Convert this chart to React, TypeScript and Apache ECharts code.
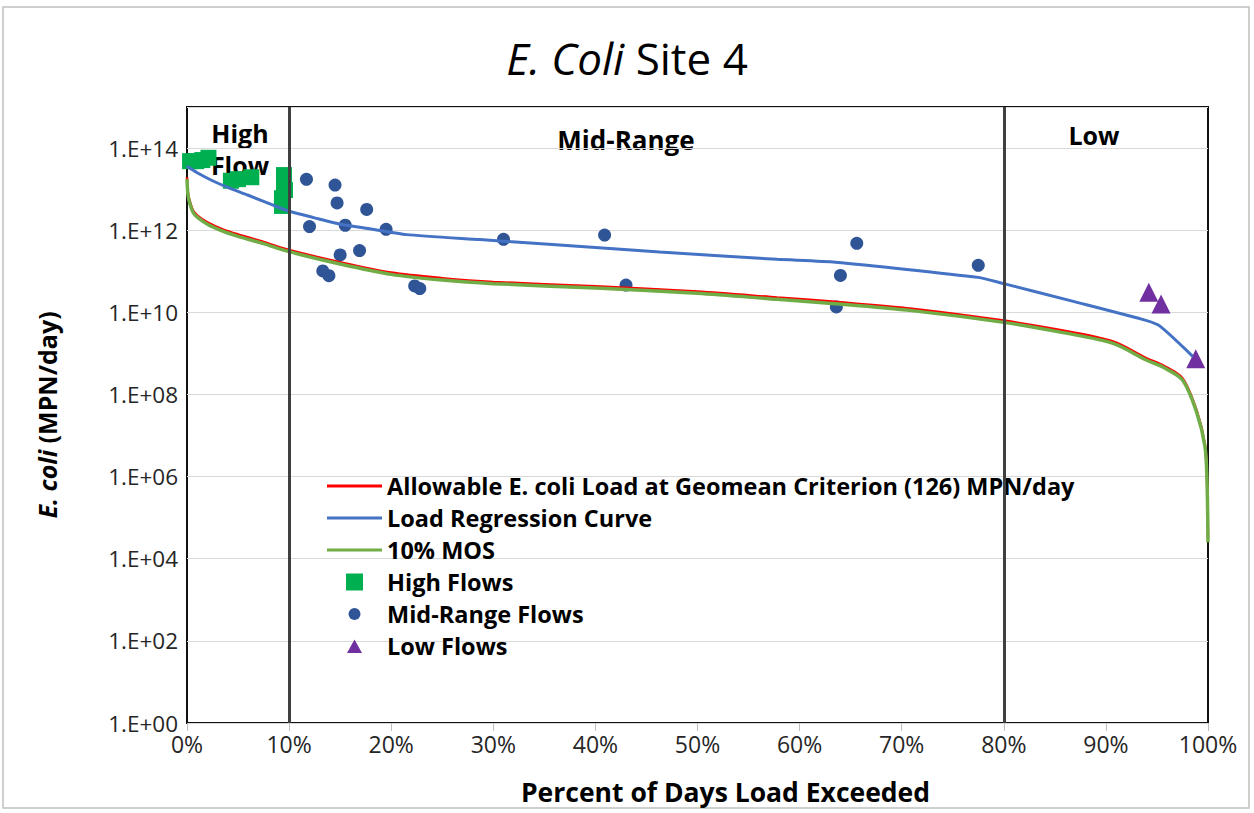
import React, { useEffect, useRef } from 'react';
import * as echarts from 'echarts';

// Percent of days load exceeded (x) and E. coli load, MPN/day (y)
const allowableX = [0, 0.1, 0.3, 0.6, 1, 2, 3.5, 5, 7.5, 10, 15, 20, 25, 30, 40, 50, 57.8, 63.5, 71, 80, 85.8, 90.7, 94, 95.6, 97.5, 98.9, 99.7, 99.9, 100];
const allowableY = [1.95e13, 7.9e12, 4.8e12, 3.0e12, 2.3e12, 1.55e12, 1.05e12, 7.9e11, 5.2e11, 3.3e11, 1.66e11, 9.3e10, 6.8e10, 5.5e10, 4.3e10, 3.2e10, 2.3e10, 1.8e10, 1.23e10, 6.3e9, 3.6e9, 1.95e9, 7.6e8, 5.1e8, 2.5e8, 4.0e7, 6.0e6, 9.3e5, 3.2e4];

const mosX = [0, 0.1, 0.3, 0.6, 1, 2, 3.5, 5, 7.5, 10, 15, 20, 25, 30, 40, 50, 57.8, 63.5, 71, 80, 85.8, 90.7, 94, 95.6, 97.5, 98.9, 99.7, 99.9, 100];
const mosY = [1.75e13, 7.1e12, 4.3e12, 2.7e12, 2.07e12, 1.4e12, 9.5e11, 7.1e11, 4.7e11, 3.0e11, 1.5e11, 8.4e10, 6.1e10, 5.0e10, 3.9e10, 2.9e10, 2.07e10, 1.62e10, 1.1e10, 5.7e9, 3.2e9, 1.75e9, 6.8e8, 4.6e8, 2.25e8, 3.6e7, 5.4e6, 8.4e5, 2.5e4];

const regressionX = [0, 1, 2.5, 4, 6, 8.5, 10, 12.5, 15, 18, 21.5, 28.7, 40, 46.3, 57.8, 63.5, 77.5, 80, 87, 94, 95.3, 98.5];
const regressionY = [3.6e13, 2.5e13, 1.6e13, 1.1e13, 7.1e12, 4.0e12, 2.9e12, 2.0e12, 1.4e12, 1.07e12, 7.8e11, 5.9e11, 3.8e11, 2.95e11, 1.95e11, 1.66e11, 7.1e10, 5.0e10, 1.8e10, 6.3e9, 4.6e9, 8.5e8];

const highX = [0.3, 0.9, 1.5, 2.1, 4.3, 5.0, 6.3, 9.5, 9.5, 9.6, 9.3, 9.3];
const highY = [4.8e13, 4.8e13, 5.1e13, 5.8e13, 1.6e13, 1.75e13, 1.95e13, 2.2e13, 1.4e13, 9.5e12, 6.0e12, 3.9e12];

const midX = [11.7, 14.5, 14.7, 17.6, 12.0, 15.5, 19.5, 15.0, 16.9, 13.3, 13.9, 22.3, 22.8, 31.0, 40.9, 43.0, 65.6, 64.0, 63.6, 77.5];
const midY = [1.74e13, 1.26e13, 4.6e12, 3.2e12, 1.23e12, 1.32e12, 1.05e12, 2.5e11, 3.2e11, 1.02e11, 7.8e10, 4.4e10, 3.8e10, 6.0e11, 7.6e11, 4.6e10, 4.8e11, 7.9e10, 1.35e10, 1.4e11];

const lowX = [94.2, 95.4, 98.8];
const lowY = [3.1e10, 1.6e10, 7.4e8];

const regionBounds = [10, 80];
const xTicks = [0, 10, 20, 30, 40, 50, 60, 70, 80, 90, 100];

const FONT = '"Open Sans"';

const NAMES = {
  allow: 'Allowable E. coli Load at Geomean Criterion (126) MPN/day',
  reg: 'Load Regression Curve',
  mos: '10% MOS',
  high: 'High Flows',
  mid: 'Mid-Range Flows',
  low: 'Low Flows',
};

const COLORS = {
  allow: '#ff0000',
  reg: '#4472c4',
  mos: '#70ad47',
  high: '#00b050',
  mid: '#2f5597',
  low: '#7030a0',
};

const LINE_ICON = 'path://M0,0M55,17M0,7H55V10H0Z';
const SQUARE_ICON = 'path://M0,0H17V17H0Z';
const CIRCLE_ICON = 'path://M0,0M17,17M8.5,2.5A6,6,0,1,1,8.5,14.5A6,6,0,1,1,8.5,2.5Z';
const TRIANGLE_ICON = 'path://M0,0M17,17M8.5,2L16,15.5H1Z';

export default function App() {
  const ref = useRef<HTMLDivElement>(null);
  useEffect(() => {
    const chart = echarts.init(ref.current!, null, { renderer: 'svg' });
    const pts = (xs: number[], ys: number[]) => xs.map((x, i) => [x, Math.log10(ys[i])]);
    const legendItem = (name: string, icon: string, color: string) => ({
      name,
      icon,
      itemStyle: { color, borderWidth: 0 },
    });
    const option: any = {
      animation: false,
      backgroundColor: '#ffffff',
      textStyle: { fontFamily: FONT },
      title: {
        text: '{i|E. Coli}{n| Site 4}',
        left: 'center',
        top: 31,
        textStyle: {
          rich: {
            i: { fontFamily: FONT, fontStyle: 'italic', fontWeight: 'normal', fontSize: 44, color: '#000' },
            n: { fontFamily: FONT, fontWeight: 'normal', fontSize: 44, color: '#000' },
          },
        },
      },
      grid: {
        left: 187,
        right: 46,
        top: 107,
        bottom: 90,
        show: true,
        borderColor: '#111',
        borderWidth: 2,
        backgroundColor: 'transparent',
      },
      legend: {
        orient: 'vertical',
        left: 327,
        top: 474,
        itemWidth: 55,
        itemHeight: 17,
        itemGap: 8,
        padding: 0,
        itemStyle: { borderWidth: 0 },
        textStyle: { fontFamily: FONT, fontWeight: 'bold', fontSize: 23.5, lineHeight: 23, color: '#000' },
        data: [
          legendItem(NAMES.allow, LINE_ICON, COLORS.allow),
          legendItem(NAMES.reg, LINE_ICON, COLORS.reg),
          legendItem(NAMES.mos, LINE_ICON, COLORS.mos),
          legendItem(NAMES.high, SQUARE_ICON, COLORS.high),
          legendItem(NAMES.mid, CIRCLE_ICON, COLORS.mid),
          legendItem(NAMES.low, TRIANGLE_ICON, COLORS.low),
        ],
      },
      xAxis: {
        type: 'value',
        min: xTicks[0],
        max: xTicks[xTicks.length - 1],
        interval: 10,
        name: 'Percent of Days Load Exceeded',
        nameLocation: 'middle',
        nameGap: 55,
        nameTextStyle: { fontFamily: FONT, fontWeight: 'bold', fontSize: 26.5, color: '#000', padding: [0, 0, 0, 56] },
        axisLine: { show: false },
        axisTick: { show: true, length: 8, lineStyle: { color: '#bfbfbf', width: 1 } },
        axisLabel: { formatter: '{value}%', fontFamily: FONT, fontSize: 23, color: '#262626', margin: 9 },
        splitLine: { show: false },
      },
      yAxis: {
        type: 'value',
        min: 0,
        max: 15,
        interval: 2,
        name: '{i|E. coli}{n| (MPN/day)}',
        nameLocation: 'middle',
        nameGap: 128,
        nameRotate: 90,
        nameTextStyle: {
          rich: {
            i: { fontFamily: FONT, fontWeight: 'bold', fontStyle: 'italic', fontSize: 25, color: '#000' },
            n: { fontFamily: FONT, fontWeight: 'bold', fontSize: 25, color: '#000' },
          },
        },
        axisLine: { show: false },
        axisTick: { show: false },
        axisLabel: {
          fontFamily: FONT,
          fontSize: 22.5,
          color: '#262626',
          margin: 9,
          formatter: (v: number) => (v > 14.5 ? '' : '1.E+' + String(v).padStart(2, '0')),
        },
        splitLine: { show: true, lineStyle: { color: '#d9d9d9', width: 1 } },
      },
      graphic: [
        {
          type: 'rect',
          shape: { x: 3, y: 7, width: 1246, height: 801 },
          style: { fill: 'none', stroke: '#c0c0c0', lineWidth: 1.5 },
          silent: true,
        },
        { type: 'text', x: 240, y: 133, style: { text: 'High', font: `bold 25px ${FONT}`, fill: '#000', align: 'center', verticalAlign: 'middle' } },
        { type: 'text', x: 240, y: 165, style: { text: 'Flow', font: `bold 25px ${FONT}`, fill: '#000', align: 'center', verticalAlign: 'middle' } },
        { type: 'text', x: 626, y: 140, style: { text: 'Mid-Range', font: `bold 26px ${FONT}`, fill: '#000', align: 'center', verticalAlign: 'middle' } },
        { type: 'text', x: 1094, y: 135, style: { text: 'Low', font: `bold 25px ${FONT}`, fill: '#000', align: 'center', verticalAlign: 'middle' } },
      ],
      series: [
        {
          name: NAMES.allow,
          type: 'line',
          data: pts(allowableX, allowableY),
          symbol: 'none',
          smooth: 0.3,
          lineStyle: { color: COLORS.allow, width: 2.5 },
          itemStyle: { color: COLORS.allow },
          markLine: {
            silent: true,
            symbol: ['none', 'none'],
            label: { show: false },
            lineStyle: { color: '#404040', width: 3, type: 'solid' },
            data: regionBounds.map((b) => ({ xAxis: b })),
          },
        },
        {
          name: NAMES.reg,
          type: 'line',
          data: pts(regressionX, regressionY),
          symbol: 'none',
          smooth: 0.2,
          lineStyle: { color: COLORS.reg, width: 3 },
          itemStyle: { color: COLORS.reg },
        },
        {
          name: NAMES.mos,
          type: 'line',
          data: pts(mosX, mosY),
          symbol: 'none',
          smooth: 0.3,
          lineStyle: { color: COLORS.mos, width: 3.5 },
          itemStyle: { color: COLORS.mos },
        },
        {
          name: NAMES.high,
          type: 'scatter',
          data: pts(highX, highY),
          symbol: 'rect',
          symbolSize: 16,
          itemStyle: { color: COLORS.high, opacity: 1 },
        },
        {
          name: NAMES.mid,
          type: 'scatter',
          data: pts(midX, midY),
          symbol: 'circle',
          symbolSize: 13,
          itemStyle: { color: COLORS.mid, opacity: 1 },
        },
        {
          name: NAMES.low,
          type: 'scatter',
          data: pts(lowX, lowY),
          symbol: 'triangle',
          symbolSize: 19,
          itemStyle: { color: COLORS.low, opacity: 1 },
        },
      ],
    };
    chart.setOption(option);
    return () => chart.dispose();
  }, []);
  return (
    <div
      ref={ref}
      style={{ position: 'absolute', left: 0, top: 0, width: 1254, height: 813, background: '#fff' }}
    />
  );
}
